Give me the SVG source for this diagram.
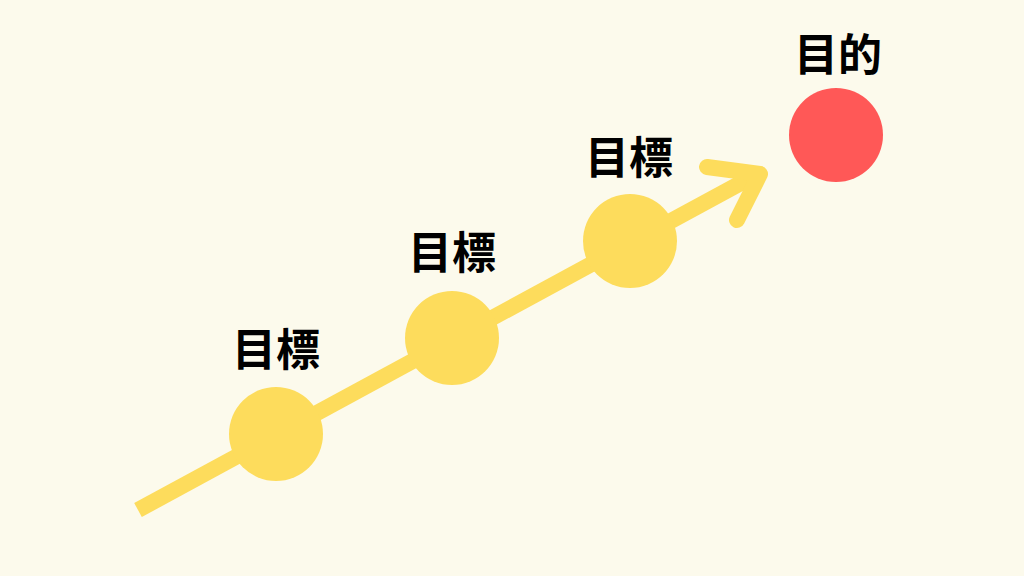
<svg xmlns="http://www.w3.org/2000/svg" width="1024" height="576" viewBox="0 0 1024 576">
<style>
.lbl{font-family:"Noto Sans CJK JP","Noto Sans CJK SC",sans-serif;font-weight:700;font-size:44px;fill:#000;text-anchor:middle;dominant-baseline:central}
.dot{fill:#FDDC5C}
.ln{stroke:#FDDC5C;stroke-width:16;fill:none}
</style>
<rect width="1024" height="576" fill="#FCFAEC"/>
<g id="connectors">
<line class="ln" x1="138" y1="510" x2="752" y2="177"/>
<polyline class="ln" points="707,167 760,174 737,220" stroke-width="17" stroke-linecap="round" stroke-linejoin="round"/>
</g>
<g id="node1"><circle class="dot" cx="276" cy="434" r="47"/><text class="lbl" x="276" y="347">目標</text></g>
<g id="node2"><circle class="dot" cx="452" cy="338" r="47"/><text class="lbl" x="452" y="250">目標</text></g>
<g id="node3"><circle class="dot" cx="630" cy="241" r="47"/><text class="lbl" x="629" y="155">目標</text></g>
<g id="goal"><circle cx="836" cy="135" r="47" fill="#FF5857"/><text class="lbl" x="838" y="52">目的</text></g>
</svg>
